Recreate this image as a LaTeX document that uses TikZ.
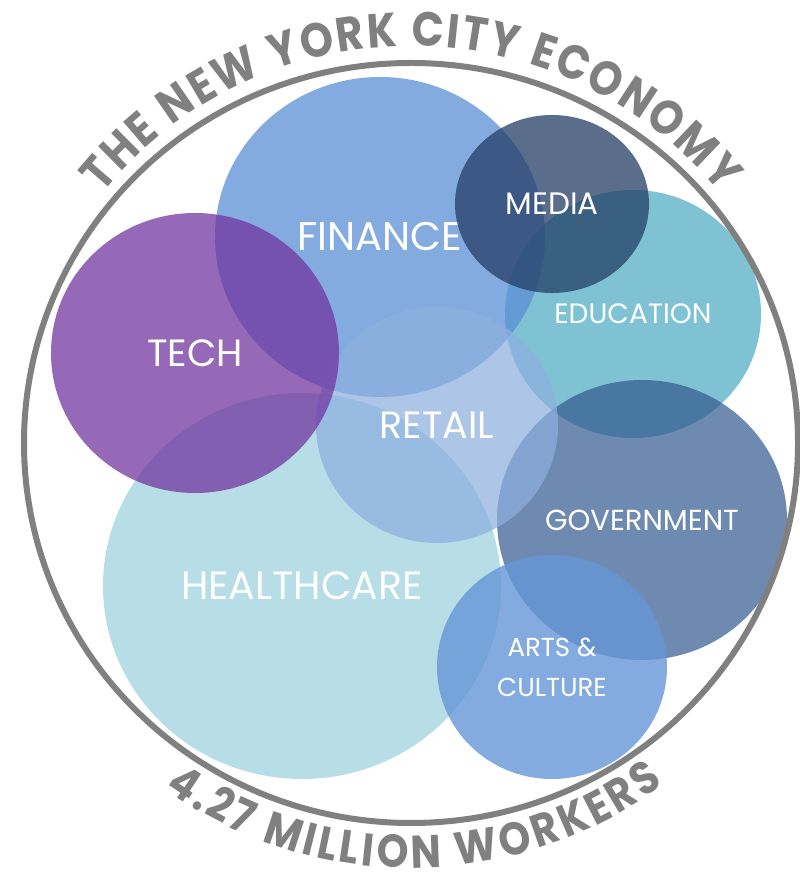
\documentclass[tikz,border=0pt]{standalone}
\usepackage{fontspec}
\setmainfont{Poppins}
\newfontfamily\arcfont{Poppins}[FakeStretch=0.88]
\usepackage{xcolor}
\usepackage{tikz}
\usetikzlibrary{shapes.geometric,decorations.text}
\definecolor{ringgray}{RGB}{128,128,128}
\definecolor{hcarecol}{RGB}{183,221,231}
\definecolor{educol}{RGB}{84,174,198}
\definecolor{govcol}{RGB}{49,89,142}
\definecolor{fincol}{RGB}{91,143,212}
\definecolor{retailcol}{RGB}{141,176,223}
\definecolor{techcol}{RGB}{112,52,159}
\definecolor{mediacol}{RGB}{35,62,102}
\definecolor{artscol}{RGB}{101,150,215}
\tikzset{bubble/.style={ellipse, inner sep=0pt, text=white, text opacity=1}}

\begin{document}
\begin{tikzpicture}[x=1pt,y=1pt]
    \useasboundingbox (0,0) rectangle (800,875);
    \node[bubble, fill=hcarecol, minimum width=398, minimum height=386, font=\fontsize{39.5}{39.5}\selectfont] at (302,289) (hcare) {HEALTHCARE};
    \node[bubble, fill=educol, fill opacity=0.75, minimum width=256, minimum height=248, font=\fontsize{28}{28}\selectfont] at (633,561) (edu) {EDUCATION};
    \node[bubble, fill=govcol, fill opacity=0.7, minimum width=290, minimum height=280, font=\fontsize{29}{29}\selectfont] at (642,355) (gov) {GOVERNMENT};
    \node[bubble, fill=fincol, fill opacity=0.75, minimum width=330, minimum height=320, font=\fontsize{40}{40}\selectfont] at (380,638) (fin) {FINANCE};
    \node[bubble, fill=retailcol, fill opacity=0.72, minimum width=242, minimum height=236, font=\fontsize{38}{38}\selectfont] at (437,450) (retail) {RETAIL};
    \node[bubble, fill=techcol, fill opacity=0.74, minimum width=288, minimum height=280, font=\fontsize{38}{38}\selectfont] at (195,522) (tech) {TECH};
    \node[bubble, fill=mediacol, fill opacity=0.75, minimum width=194, minimum height=178, font=\fontsize{31}{31}\selectfont] at (552,671) (media) {MEDIA};
    \node[bubble, fill=artscol, fill opacity=0.8, minimum width=230, minimum height=224, align=center, font=\fontsize{26}{40}\selectfont] at (552,208) (arts) {ARTS \&\\CULTURE};

    \node[ellipse, draw=ringgray, line width=6, minimum width=774, minimum height=760] at (411,432) (ring) {};
    \path[decorate, decoration={text along path, text align=fit to path,
        text={|\arcfont\bfseries\fontsize{48}{48}\selectfont\color{ringgray}|THE NEW YORK CITY ECONOMY}}]
        ([shift={(141:397)}]ring.center) arc[start angle=141, end angle=39, radius=397];
    \path[decorate, decoration={text along path, text align=fit to path,
        text={|\arcfont\bfseries\fontsize{46}{46}\selectfont\color{ringgray}|4.27 MILLION WORKERS}}]
        ([shift={(234.5:425)}]ring.center) arc[start angle=234.5, end angle=306.5, radius=425];
\end{tikzpicture}
\end{document}
